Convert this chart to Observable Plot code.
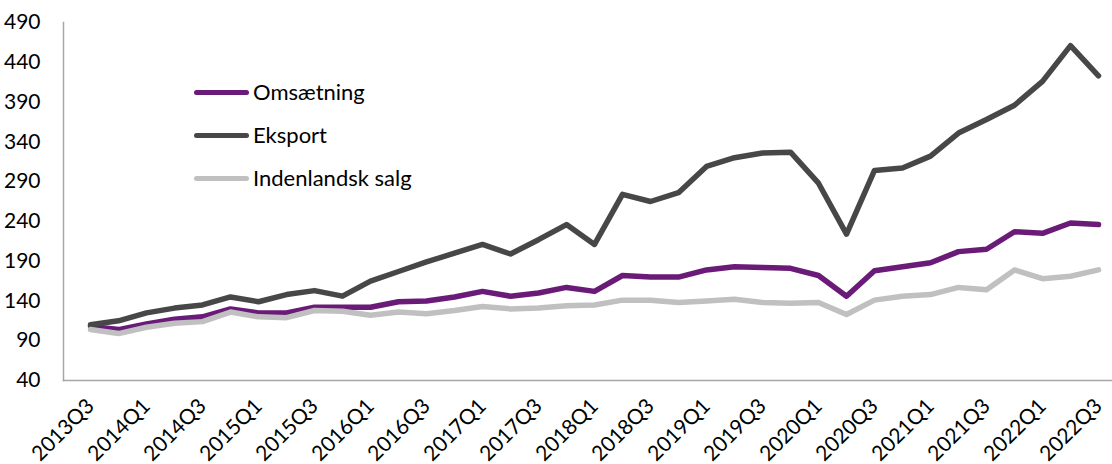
<!DOCTYPE html>
<html><head><meta charset="utf-8">
<script src="https://cdn.jsdelivr.net/npm/d3@7"></script>
<script src="https://cdn.jsdelivr.net/npm/@observablehq/plot@0.6"></script>
<style>
body{margin:0;background:#fff;}
#wrap{position:relative;width:1112px;height:464px;font-family:Lato,"Open Sans",sans-serif;overflow:hidden;}
.legend{position:absolute;left:0;top:0;}
.item{position:absolute;display:flex;align-items:center;white-space:nowrap;font-size:22px;line-height:28px;color:#000;}
.sw{width:55px;height:5px;border-radius:3px;margin-right:4px;}
</style></head><body><div id="wrap"></div>
<script>
const quarters = ["2013Q3","2013Q4","2014Q1","2014Q2","2014Q3","2014Q4","2015Q1","2015Q2","2015Q3","2015Q4",
  "2016Q1","2016Q2","2016Q3","2016Q4","2017Q1","2017Q2","2017Q3","2017Q4","2018Q1","2018Q2",
  "2018Q3","2018Q4","2019Q1","2019Q2","2019Q3","2019Q4","2020Q1","2020Q2","2020Q3","2020Q4",
  "2021Q1","2021Q2","2021Q3","2021Q4","2022Q1","2022Q2","2022Q3"];
const xTickLabels = ["2013Q3","2014Q1","2014Q3","2015Q1","2015Q3","2016Q1","2016Q3","2017Q1","2017Q3","2018Q1",
  "2018Q3","2019Q1","2019Q3","2020Q1","2020Q3","2021Q1","2021Q3","2022Q1","2022Q3"];
const yTicks = [40,90,140,190,240,290,340,390,440,490];
const seriesNames = ["Omsætning","Eksport","Indenlandsk salg"];
const seriesColors = ["#6a1b78","#474747","#c0c0c0"];
const omsaetning = [108,104,111,117,120,130,125,125,132,132,132,139,140,145,152,146,150,157,152,172,170,170,179,183,182,181,172,146,178,183,188,202,205,227,225,238,236];
const eksport = [110,115,125,131,135,145,139,148,153,146,165,177,189,200,211,199,217,236,211,274,265,276,309,320,326,327,288,224,304,307,322,351,368,386,416,461,423];
const indenlandsk = [104,99,107,112,114,126,120,119,128,127,122,126,124,128,133,130,131,134,135,141,141,138,140,142,138,137,138,123,141,146,148,157,154,179,168,171,179];

const seriesValues = [omsaetning, eksport, indenlandsk];
const rows = [];
seriesNames.forEach((name, k) => seriesValues[k].forEach((v, i) => rows.push({q: quarters[i], v, s: name})));

const chart = Plot.plot({
  width: 1112, height: 464,
  marginTop: 22, marginBottom: 84, marginLeft: 63, marginRight: 0,
  style: {fontFamily: "Lato, 'Open Sans', sans-serif", color: "#000", background: "transparent", overflow: "visible"},
  x: {type: "point", domain: quarters, range: [63, 1124], padding: 0.5, axis: null},
  y: {domain: [40, 490]},
  color: {domain: seriesNames, range: seriesColors},
  marks: [
    Plot.axisY({ticks: yTicks, tickSize: 0, tickPadding: 23, fontSize: 21, label: null}),
    Plot.frame({anchor: "left", stroke: "#a6a6a6", strokeWidth: 1.5}),
    Plot.frame({anchor: "bottom", stroke: "#a6a6a6", strokeWidth: 1.5}),
    Plot.text(xTickLabels, {x: d => d, frameAnchor: "bottom", rotate: -45, textAnchor: "end", lineAnchor: "middle", dy: 22, dx: 0, fontSize: 21, fill: "#000"}),
    Plot.line(rows, {x: "q", y: "v", stroke: "s", z: "s", strokeWidth: 5.5, strokeLinejoin: "round", strokeLinecap: "round"})
  ]
});
const wrap = document.getElementById("wrap");
wrap.appendChild(chart);

const legend = document.createElement("div");
legend.className = "legend";
const legendTops = [78, 121, 164];
seriesNames.forEach((name, k) => {
  const it = document.createElement("div");
  it.className = "item";
  it.style.left = "194px";
  it.style.top = legendTops[k] + "px";
  const sw = document.createElement("span");
  sw.className = "sw";
  sw.style.background = seriesColors[k];
  const tx = document.createElement("span");
  tx.textContent = name;
  it.appendChild(sw); it.appendChild(tx);
  legend.appendChild(it);
});
wrap.appendChild(legend);
</script></body></html>
